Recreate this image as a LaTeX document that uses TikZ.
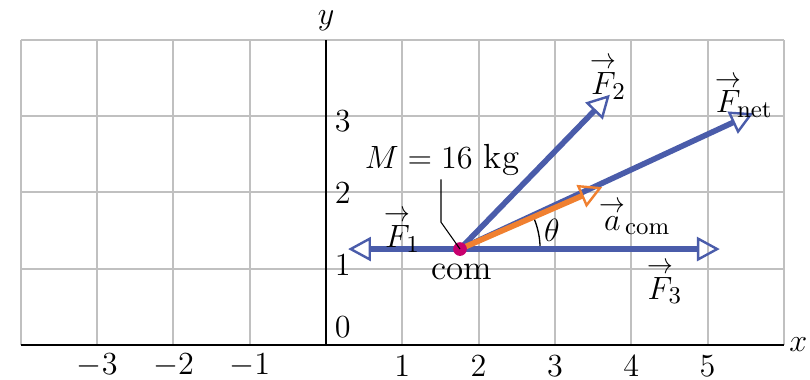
\documentclass[tikz,border=0pt]{standalone}
\usepackage{amsmath}
\usetikzlibrary{arrows.meta}
\definecolor{forceblue}{RGB}{74,92,170}
\definecolor{accorange}{RGB}{240,128,48}
\definecolor{commag}{RGB}{200,0,110}
\definecolor{gridgray}{RGB}{192,192,192}
\newcommand{\vecar}[1]{\overset{\raisebox{-1pt}{\scalebox{0.8}[0.9]{$\rightarrow$}}}{#1}}
\tikzset{
  force/.style={line width=2.1pt, draw=forceblue,
    -{Triangle[open, length=8.5pt, width=9pt, line width=0.9pt]}},
  accel/.style={line width=2.1pt, draw=accorange,
    -{Triangle[open, length=8.5pt, width=9pt, line width=0.9pt]}},
  lbl/.style={font=\fontsize{13}{15}\selectfont, inner sep=1pt}
}
\begin{document}
\begin{tikzpicture}
    \useasboundingbox (-4.273,-0.446) rectangle (6.343,4.522);
    % Grid
    \draw[gridgray, line width=0.75pt] (-4,0) grid (6,4);
    % Axes
    \draw[line width=1pt] (-4,0) -- (6,0);
    \draw[line width=1pt] (0,0) -- (0,4);
    \node[lbl] (xlab) at (6.19,0) {$x$};
    \node[lbl] (ylab) at (0,4.25) {$y$};
    % Tick labels
    \foreach \x in {-3,-2,-1,1,2,3,4,5} \node[lbl] (xt\x) at (\x,-0.27) {$\x$};
    \node[lbl] (yt0) at (0.22,0.24) {$0$};
    \node[lbl] (yt1) at (0.22,1.05) {$1$};
    \node[lbl] (yt2) at (0.22,1.99) {$2$};
    \node[lbl] (yt3) at (0.22,2.94) {$3$};
    % Center of mass and arrow tips
    \coordinate (com) at (1.756,1.258);
    \coordinate (F1tip) at (0.29,1.258);
    \coordinate (F2tip) at (3.72,3.28);
    \coordinate (F3tip) at (5.16,1.258);
    \coordinate (Fnettip) at (5.60,3.04);
    \coordinate (acomtip) at (3.62,2.07);
    % Angle theta
    \draw[line width=0.5pt] ([shift={(0:1.05)}]com) arc (0:25:1.05);
    \node[lbl] (theta) at (2.96,1.51) {$\theta$};
    % Forces
    \draw[force] (com) -- (Fnettip);
    \draw[force] (com) -- (F2tip);
    \draw[force] (com) -- (F1tip);
    \draw[force] (com) -- (F3tip);
    \draw[accel] (com) -- (acomtip);
    \fill[commag] (com) circle (0.09);
    % Labels
    \node[lbl] (F1) at (1.0,1.51) {$\vecar{F}_{\!1}$};
    \node[lbl] (F2) at (3.70,3.51) {$\vecar{F}_{\!2}$};
    \node[lbl] (F3) at (4.44,0.83) {$\vecar{F}_{\!3}$};
    \node[lbl] (Fnet) at (5.48,3.27) {$\vecar{F}_{\!\mathrm{net}}$};
    \node[lbl] (acom) at (4.05,1.68) {$\vecar{a}_{\mathrm{com}}$};
    \node[lbl] (comlab) at (1.78,0.96) {com};
    \node[lbl] (mass) at (1.52,2.42) {$M = 16$ kg};
    % Leader line
    \draw[line width=0.4pt] (com) -- (1.507,1.61) -- (mass.south -| 1.507,0);
\end{tikzpicture}
\end{document}
